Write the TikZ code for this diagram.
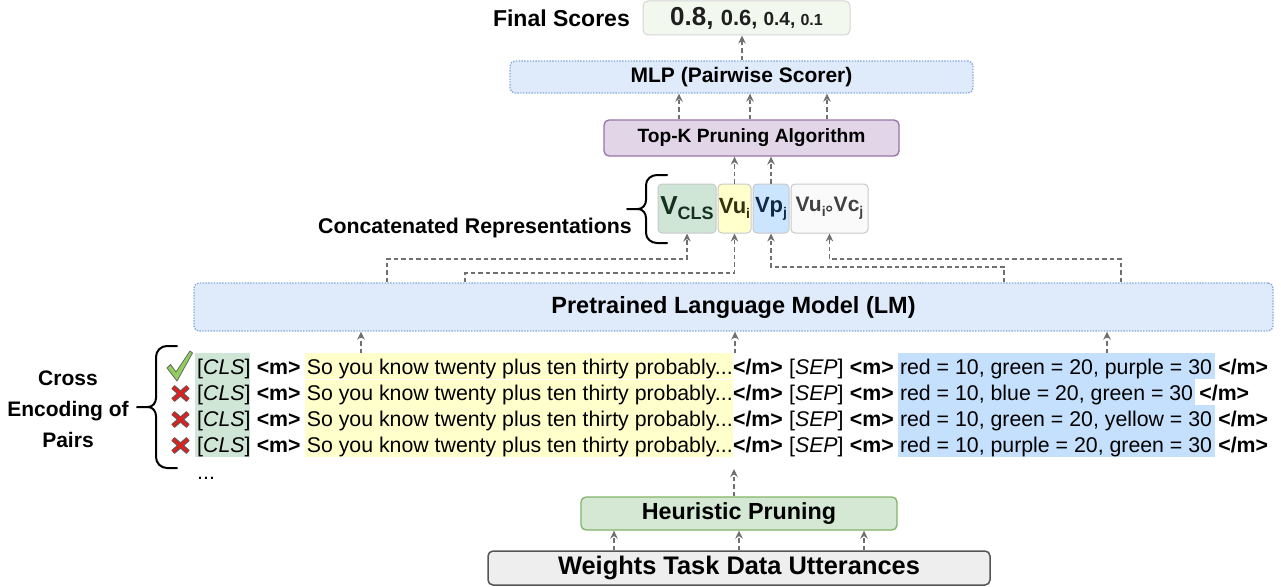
\documentclass[tikz,border=0pt]{standalone}
\usepackage{fontspec}
\setmainfont{Liberation Sans}
\usetikzlibrary{arrows.meta,calc,backgrounds}
\definecolor{lmfill}{HTML}{DFEBFA}
\definecolor{lmdraw}{HTML}{7EA6E0}
\definecolor{tkfill}{HTML}{E1D5E7}
\definecolor{tkdraw}{HTML}{9673A6}
\definecolor{hpfill}{HTML}{D5E8D4}
\definecolor{hpdraw}{HTML}{82B366}
\definecolor{wfill}{HTML}{EEEEEE}
\definecolor{wdraw}{HTML}{555555}
\definecolor{fsfill}{HTML}{F3F8EE}
\definecolor{fsdraw}{HTML}{D5D5D5}
\definecolor{clsfill}{HTML}{CFE6D6}
\definecolor{ylw}{HTML}{FFFFCC}
\definecolor{blu}{HTML}{C4E0FC}
\definecolor{vbdraw}{HTML}{C8C8C8}
\definecolor{arrowc}{HTML}{707070}
\definecolor{chk}{HTML}{8FD05A}
\definecolor{xred}{HTML}{E0201E}
\newcommand\pairrow[3]{%
 \node[rowtxt] (#1cls) at (197,#2) {[\textit{CLS}]};
 \node[rowtxt] (#1ma) at ($(#1cls.base east)+(5.9,0)$) {\textbf{<m>}};
 \node[rowtxt] (#1utt) at ($(#1ma.base east)+(5.9,0)$) {So you know twenty plus ten thirty probably...};
 \node[rowtxt] (#1mb) at (#1utt.base east) {\textbf{</m>}};
 \node[rowtxt] (#1sep) at ($(#1mb.base east)+(5.9,0)$) {[\textit{SEP}]};
 \node[rowtxt] (#1mc) at ($(#1sep.base east)+(5.9,0)$) {\textbf{<m>}};
 \node[rowtxt] (#1cand) at ($(#1mc.base east)+(5.9,0)$) {#3};
 \node[rowtxt] (#1md) at ($(#1cand.base east)+(5.9,0)$) {\textbf{</m>}};
}
\newcommand\redx[1]{%
 \draw[line width=5pt, color=black!65] (173,#1-6) -- (188,#1+7) (188,#1-6) -- (173,#1+7);
 \draw[line width=2.8pt, color=xred] (173,#1-6) -- (188,#1+7) (188,#1-6) -- (173,#1+7);
}
\newcommand\mycirc{\tikz[baseline=-3.2pt]\draw[line width=1.3pt] (0,0) circle (2.4pt);}
\tikzset{
 flow/.style={draw=arrowc, line width=1.4pt, dash pattern=on 4.5pt off 3pt, -{Stealth[length=8pt,width=7.5pt]}},
 box/.style={rounded corners=5pt, line width=1.3pt, inner sep=0},
 dotbox/.style={box, fill=lmfill, draw=lmdraw, dash pattern=on 1.4pt off 1.4pt},
 vbox/.style={rounded corners=4pt, draw=vbdraw, line width=1pt, inner sep=0, minimum height=49pt},
 rowtxt/.style={inner sep=0, anchor=base west, font=\fontsize{21.3}{25}\selectfont},
 lbl/.style={inner sep=0, font=\bfseries\fontsize{21.3}{25}\selectfont},
 bracec/.style={line width=2pt, line cap=round},
}
\begin{document}
\begin{tikzpicture}[x=1pt,y=-1pt]
\useasboundingbox (0,0) rectangle (1281,586);

% ---- top part
\node[lbl, anchor=east, font=\bfseries\fontsize{23}{23}\selectfont] (fslbl) at (630,18) {Final Scores};
\node[box, fill=fsfill, draw=fsdraw, line width=1pt, minimum width=207pt, minimum height=34pt, text=black!88] (fs) at (746.5,18)
 {\bfseries\fontsize{26}{26}\selectfont 0.8, \fontsize{22}{22}\selectfont 0.6, \fontsize{19}{19}\selectfont 0.4, \fontsize{16}{16}\selectfont 0.1};
\node[dotbox, minimum width=463pt, minimum height=32pt, font=\bfseries\fontsize{21}{21}\selectfont] (mlp) at (741.5,77) {MLP (Pairwise Scorer)};
\node[box, fill=tkfill, draw=tkdraw, minimum width=295pt, minimum height=36pt, font=\bfseries\fontsize{19.2}{20}\selectfont] (topk) at (751.5,138) {Top-K Pruning Algorithm};

% ---- vectors
\node[vbox, fill=clsfill, minimum width=58pt, text={rgb,255:red,20;green,48;blue,32}] (vcls) at (687,208.5)
 {\bfseries\fontsize{26}{26}\selectfont V\raisebox{-5pt}{\fontsize{18}{18}\selectfont CLS}};
\node[vbox, fill=ylw, minimum width=33pt, text={rgb,255:red,50;green,50;blue,15}] (vu) at (734.5,208.5)
 {\bfseries\fontsize{22}{22}\selectfont Vu\raisebox{-5pt}{\fontsize{14}{14}\selectfont i}};
\node[vbox, fill={rgb,255:red,204;green,229;blue,255}, minimum width=36pt, text={rgb,255:red,15;green,40;blue,70}] (vp) at (771,208.5)
 {\bfseries\fontsize{22}{22}\selectfont Vp\raisebox{-5pt}{\fontsize{14}{14}\selectfont j}};
\node[vbox, fill=black!2, minimum width=77pt, text=black!75] (vuc) at (829.5,208.5)
 {\bfseries\fontsize{21}{21}\selectfont Vu\raisebox{-5pt}{\fontsize{14}{14}\selectfont i}\kern0.5pt\mycirc\kern1.5pt Vc\raisebox{-5pt}{\fontsize{14}{14}\selectfont j}};

\node[lbl, anchor=base east] (crlbl) at (632,233) {Concatenated Representations};
\draw[bracec] (667,175) -- (657,175) to[out=180,in=90] (646,185) -- (646,200) to[out=-90,in=0] (638,209) -- (627,209);
\draw[bracec] (667,243) -- (657,243) to[out=180,in=-90] (646,233) -- (646,218) to[out=90,in=0] (638,209);

% ---- LM
\node[dotbox, minimum width=1079pt, minimum height=48pt, font=\bfseries\fontsize{23.5}{24}\selectfont] (lm) at (733.5,307) {Pretrained Language Model (LM)};

% ---- pair rows
\pairrow{ra}{374}{red = 10, green = 20, purple = 30}
\pairrow{rb}{400}{red = 10, blue = 20, green = 30}
\pairrow{rc}{426}{red = 10, green = 20, yellow = 30}
\pairrow{rd}{452}{red = 10, purple = 20, green = 30}
\node[rowtxt] (dots) at (197,479) {...};

\begin{pgfonlayer}{background}
 \fill[clsfill] ($(racls.west |- 0,353)+(-2,0)$) rectangle ($(rdcls.east |- 0,457)+(-1,0)$);
 \fill[ylw] ($(rautt.west |- 0,353)+(-2,0)$) rectangle ($(rautt.east |- 0,378.6)$);
 \fill[ylw] ($(rbutt.west |- 0,379.6)+(-2,0)$) rectangle ($(rdutt.east |- 0,457)$);
 \fill[blu] ($(racand.west |- 0,353)+(-2,0)$) rectangle ($(racand.east |- 0,378.6)+(3,0)$);
 \fill[blu] ($(rbcand.west |- 0,379.4)+(-2,0)$) rectangle ($(rbcand.east |- 0,404.6)+(2,0)$);
 \fill[blu] ($(rccand.west |- 0,405.4)+(-2,0)$) rectangle ($(rccand.east |- 0,430.6)+(3,0)$);
 \fill[blu] ($(rdcand.west |- 0,431.4)+(-2,0)$) rectangle ($(rdcand.east |- 0,457)+(3,0)$);
\end{pgfonlayer}

% check and crosses
\filldraw[fill=chk, draw=black!60, line width=0.8pt, line join=round]
 (167,368) -- (170.5,364.5) -- (176,372) -- (190,351) -- (192.5,353) -- (177,381) -- cycle;
\redx{393}
\redx{419}
\redx{445}

% left brace and label
\node[lbl, align=center, font=\bfseries\fontsize{21}{31}\selectfont] (cep) at (68,409) {Cross\\Encoding of\\Pairs};
\draw[bracec] (177,346) -- (167,346) to[out=180,in=90] (156,357) -- (156,398) to[out=-90,in=0] (148,407) -- (137,407);
\draw[bracec] (177,468) -- (167,468) to[out=180,in=-90] (156,457) -- (156,416) to[out=90,in=0] (148,407);

% ---- bottom
\node[box, fill=hpfill, draw=hpdraw, minimum width=316pt, minimum height=33pt, font=\bfseries\fontsize{23.3}{24}\selectfont] (hp) at (739,513.5) {Heuristic Pruning};
\node[box, fill=wfill, draw=wdraw, line width=1.5pt, minimum width=502pt, minimum height=34pt, font=\bfseries\fontsize{25.4}{26}\selectfont] (w) at (739,568) {Weights Task Data Utterances};

% ---- connectors
\coordinate (rowsbot) at (734,469);
\coordinate (rowsA) at (361,353);
\coordinate (rowsB) at (735,353);
\coordinate (rowsC) at (1107,353);

\foreach \xx in {614,739,864} \draw[flow] (w.north -| \xx,0) -- (hp.south -| \xx,0);
\draw[flow] (hp.north -| rowsbot) -- (rowsbot);
\foreach \c in {rowsA,rowsB,rowsC} \draw[flow] (\c) -- (lm.south -| \c);

\draw[flow] (lm.north -| 387,0) -- (387,259) -| (vcls.south);
\draw[flow] (lm.north -| 465,0) -- (465,273) -| (vu.south);
\draw[flow] (lm.north -| 1004,0) -- (1004,267) -| (vp.south);
\draw[flow] (lm.north -| 1121,0) -- (1121,259) -| (vuc.south);

\draw[flow] (vu.north) -- (vu.north |- topk.south);
\draw[flow] (vp.north) -- (vp.north |- topk.south);
\foreach \xx in {679,750,827} \draw[flow] (topk.north -| \xx,0) -- (mlp.south -| \xx,0);
\draw[flow] (mlp.north -| 742,0) -- (fs.south -| 742,0);
\end{tikzpicture}
\end{document}
